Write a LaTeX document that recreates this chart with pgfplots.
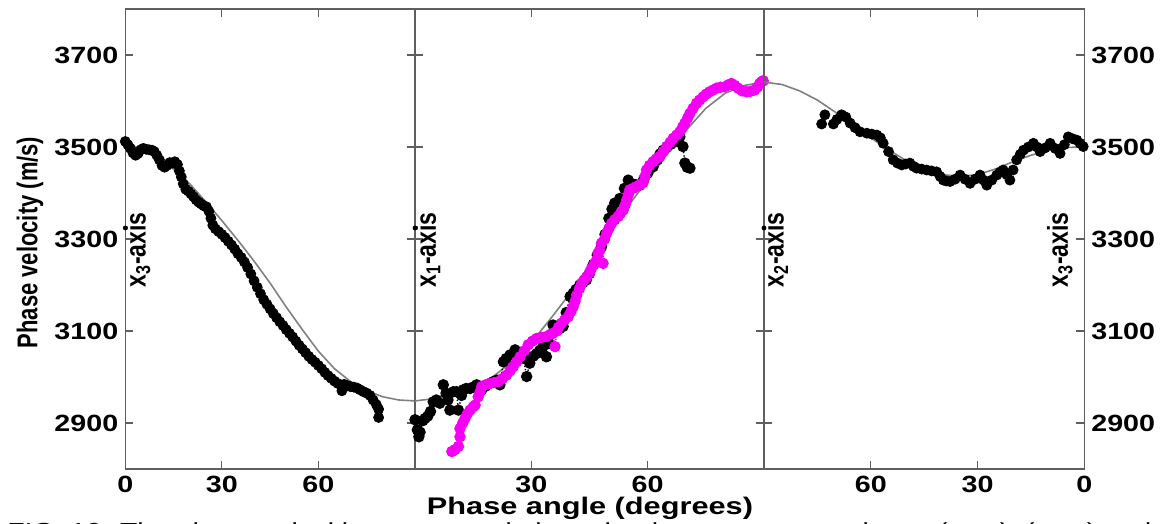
\documentclass[border=0pt]{standalone}
\usepackage{pgfplots}
\pgfplotsset{compat=1.18}
\usepackage{fontspec}
\usepackage{graphicx}
\setmainfont{Liberation Sans}
\newfontfamily\wide[FakeStretch=1.22]{Liberation Sans}
\newfontfamily\wider[FakeStretch=1.28]{Liberation Sans}
\newcommand\tickfont{\wide\bfseries\fontsize{11.75}{12}\selectfont}
\definecolor{mag}{RGB}{245,0,245}
\definecolor{theo}{RGB}{128,128,128}
\definecolor{frame}{RGB}{95,95,95}
\pgfplotsset{
  panel/.style={scale only axis, height=230pt, anchor=south west,
    xmin=0, xmax=90, ymin=2800, ymax=3800,
    ytick={2900,3100,3300,3500,3700},
    axis line style={frame, line width=0.6pt},
    every tick/.style={frame, line width=0.6pt},
    major tick length=4pt,
    tick label style={font=\tickfont},
    /pgf/number format/assume math mode=true,
    /pgf/number format/1000 sep={},
    clip mode=individual},
  theory/.style={theo, line width=0.8pt, no marks},
  blk/.style={black, densely dotted, line width=0.7pt, mark=*, mark size=2.5pt, mark options={solid, fill=black, draw=black}},
  blkm/.style={only marks, mark=*, mark size=2.5pt, mark options={solid, fill=black, draw=black}},
  pnk/.style={mag, densely dotted, line width=0.7pt, mark=*, mark size=2.5pt, mark options={solid, fill=mag, draw=mag}},
  dot/.style={only marks, mark=*, mark size=1pt, black},
}
\newcommand\axlab[1]{\scalebox{1}[1.25]{\bfseries\fontsize{11.5}{12}\selectfont #1}}
\begin{document}
\begin{tikzpicture}
\useasboundingbox (0,0) rectangle (581.5pt,262pt);
% ---------------- left panel (x1x3 -> x3) ----------------
\begin{axis}[panel, at={(62.65pt,27.5pt)}, width=144.85pt, xtick={0,30,60}]
\addplot[theory] coordinates {(0,3505)(5,3497)(10,3478)(15,3452)(20,3420)(25,3381)(30,3340)(35,3297)(40,3252)(45,3204)(50,3152)(55,3103)(60,3056)(65,3018)(70,2990)(75,2970)(80,2957)(85,2950)(90,2948)};
\addplot[blkm] coordinates {
(0,3512)(0.8,3505)(1.6,3497)(2.4,3487)(3.2,3482)(4.0,3486)(4.8,3494)(5.6,3497)(6.5,3495)(7.4,3494)(8.3,3493)(9.0,3490)(9.8,3482)(10.6,3472)(11.4,3460)(12.2,3456)(13.0,3460)(13.8,3466)(14.6,3465)(15.4,3468)(16.2,3462)(16.8,3448)(17.4,3435)(18.0,3420)(18.8,3408)(19.6,3404)(20.4,3398)(21.2,3392)(22.0,3385)(22.8,3380)(23.6,3376)(24.4,3372)(25.2,3370)(26.0,3360)(26.6,3345)(27.2,3330)(28.0,3322)(29.0,3316)(30.0,3310)(31.0,3303)(32.0,3295)(33.0,3287)(34.0,3278)(35.0,3268)(36.0,3260)(37.0,3250)(38.0,3238)(39.0,3224)(40.0,3209)(41.0,3195)(42.0,3181)(43.0,3168)(44.0,3158)(45.0,3148)(46.0,3138)(47.0,3129)(48.0,3120)(49.0,3112)(50.0,3103)(51.0,3095)(52.0,3087)(53.0,3078)(54.0,3069)(55.0,3061)(56.0,3053)(57.0,3045)(58.0,3038)(59.0,3032)(60.0,3025)(61.0,3018)(62.0,3010)(63.0,3003)(64.0,2997)(65.0,2991)(66.0,2986)(67.3,2970)(68.0,2984)(69.0,2981)(70.0,2979)(71.0,2978)(72.0,2976)(73.0,2972)(74.0,2968)(75.0,2965)(76.0,2960)(77.0,2950)(78.0,2940)(78.7,2930)(78.7,2912)};
\addplot[dot] coordinates {(0,3324)};
\node[rotate=90, anchor=base] at (axis cs:6.3,3276) {\axlab{x\textsubscript{3}-axis}};
\end{axis}
% ---------------- middle panel (x1 -> x2) ----------------
\begin{axis}[panel, at={(207.5pt,27.5pt)}, width=174.5pt, xtick={30,60}, yticklabels={}]
\addplot[theory] coordinates {(0,2948)(5,2953)(10,2963)(15,2978)(20,3000)(25,3033)(30,3075)(35,3127)(40,3182)(45,3243)(50,3308)(55,3372)(60,3428)(65,3484)(70,3537)(75,3584)(80,3617)(85,3634)(90,3641)};
\addplot[blk] coordinates {
(0,2907)(0.6,2885)(1.0,2870)(1.3,2880)(2.0,2905)(2.6,2910)(3.3,2915)(4.0,2925)(4.7,2946)(5.5,2950)(6.4,2943)(7.3,2983)(8.0,2965)(8.5,2950)(9.0,2928)(9.9,2968)(10.7,2968)(11.2,2928)(12.0,2960)(12.4,2972)(13.2,2975)(14.2,2975)(15.0,2978)(15.9,2983)(17.2,2972)(18.2,2980)(19.3,2986)(20.2,2990)(21.1,2993)(21.9,2983)(22.8,3033)(23.5,3040)(24.5,3048)(25.8,3059)(26.8,3050)(27.9,3041)(28.8,3001)(29.6,3030)(30.5,3045)(31.4,3051)(32.2,3058)(33.0,3066)(33.9,3044)(34.5,3073)(35.6,3113)(36.5,3110)(37.3,3105)(38.2,3110)(39.0,3140)(40.0,3175)(40.8,3182)(41.5,3190)(42.5,3200)(43.3,3205)(44.2,3211)(45.0,3225)(46.0,3245)(47.0,3265)(48.1,3283)(49.0,3310)(50.0,3345)(50.8,3365)(51.5,3378)(52.8,3388)(54.0,3410)(55.0,3428)(56.0,3420)(57.0,3418)(58.0,3417)(59.0,3430)(60.0,3443)(61.4,3457)(62.5,3472)(63.2,3485)(64.0,3493)(65.0,3500)(66.0,3506)(67.2,3512)(68.3,3522)(69.1,3501)(69.6,3465)(70.2,3456)(70.9,3454)};
\addplot[pnk] coordinates {
(9.5,2838)(10.3,2842)(11.2,2849)(11.6,2870)(11.6,2888)(12.3,2900)(12.9,2910)(13.5,2920)(14.2,2928)(15.0,2935)(15.5,2939)(16.3,2957)(16.8,2968)(17.2,2979)(18.2,2983)(19.3,2986)(20.4,2988)(21.5,2990)(22.6,2997)(23.6,3004)(24.5,3013)(25.3,3022)(26.2,3033)(27.1,3044)(28.2,3057)(29.2,3070)(30.3,3078)(31.4,3084)(32.6,3086)(33.9,3088)(35.0,3093)(35.5,3095)(36.1,3066)(36.6,3100)(37.0,3108)(37.8,3117)(38.6,3124)(39.5,3131)(40.2,3142)(40.8,3153)(41.3,3165)(41.7,3178)(42.4,3192)(43.0,3204)(43.6,3211)(44.3,3218)(45.0,3227)(45.5,3236)(46.2,3245)(46.8,3254)(47.2,3269)(47.6,3275)(48.1,3291)(48.5,3247)(48.9,3300)(49.4,3312)(50.0,3323)(50.7,3334)(51.5,3342)(52.4,3349)(53.0,3356)(53.7,3363)(54.2,3374)(54.6,3385)(55.0,3396)(55.4,3407)(56.2,3410)(57.1,3414)(58.0,3418)(58.8,3422)(59.3,3436)(59.7,3450)(60.5,3460)(61.4,3468)(62.2,3474)(63.1,3479)(64.0,3490)(64.9,3501)(65.8,3510)(66.6,3519)(67.5,3526)(68.3,3533)(69.0,3543)(69.6,3552)(70.3,3563)(70.9,3573)(71.7,3584)(72.6,3595)(73.4,3602)(74.3,3609)(75.1,3615)(76.0,3620)(76.9,3624)(77.8,3628)(78.8,3630)(79.9,3631)(80.8,3635)(81.6,3638)(82.4,3634)(83.3,3628)(84.4,3622)(85.5,3620)(86.5,3621)(87.6,3624)(88.3,3630)(88.9,3638)(89.4,3642)(89.8,3644)};
\addplot[dot] coordinates {(0,3324)};
\node[rotate=90, anchor=base] at (axis cs:5.4,3276) {\axlab{x\textsubscript{1}-axis}};
\end{axis}
% ---------------- right panel (x2 -> x3) ----------------
\begin{axis}[panel, at={(382pt,27.5pt)}, width=160.15pt, x dir=reverse, xtick={0,30,60}, yticklabel pos=right]
\addplot[theory] coordinates {(90,3641)(85,3636)(80,3622)(75,3602)(70,3576)(65,3548)(60,3520)(55,3494)(50,3470)(45,3452)(40,3440)(35,3436)(30,3440)(25,3452)(20,3468)(15,3482)(10,3493)(5,3499)(0,3500)};
\addplot[blkm] coordinates {
(73.8,3550)(72.9,3570)(70.5,3550)(69.5,3560)(68.2,3570)(67.0,3565)(65.8,3552)(64.4,3542)(63.0,3533)(61.1,3530)(59.7,3528)(58.3,3526)(57.3,3520)(56.5,3508)(55.0,3490)(53.7,3472)(52.5,3465)(51.3,3461)(50.2,3463)(49.0,3465)(48.0,3458)(47.1,3454)(45.7,3452)(44.3,3450)(42.9,3448)(41.5,3446)(40.5,3436)(39.6,3428)(38.7,3426)(37.7,3425)(36.3,3430)(34.9,3439)(33.5,3430)(32.1,3421)(30.7,3430)(29.3,3439)(28.3,3428)(27.4,3417)(26.0,3428)(24.6,3439)(23.7,3445)(22.8,3450)(21.8,3440)(20.9,3428)(20.0,3450)(19.0,3472)(18.0,3484)(17.1,3493)(15.7,3500)(14.3,3508)(13.3,3500)(12.4,3490)(11.0,3498)(9.6,3508)(8.2,3497)(6.8,3486)(5.6,3505)(4.5,3522)(3.3,3518)(2.1,3515)(1.2,3508)(0.3,3501)};
\addplot[dot] coordinates {(90,3324)};
\node[rotate=90, anchor=base] at (axis cs:84.5,3276) {\axlab{x\textsubscript{2}-axis}};
\node[rotate=90, anchor=base] at (axis cs:4.6,3276) {\axlab{x\textsubscript{3}-axis}};
\end{axis}
% ---------------- labels ----------------
\node[rotate=90, anchor=center] at (15pt,140.75pt) {\scalebox{1}[1.3]{\bfseries\fontsize{11}{12}\selectfont Phase velocity (m/s)}};
\node[anchor=base, inner sep=0pt] at (295pt,4.5pt) {\wider\bfseries\fontsize{12}{13}\selectfont Phase angle (degrees)};
\node[anchor=base west, inner sep=0pt] at (3.5pt,-8pt) {\wide\fontsize{11.6}{13}\selectfont FIG. 10. The phase velocities measured along the three symmetry planes (x\textsubscript{1}x\textsubscript{3}), (x\textsubscript{1}x\textsubscript{2}) and};
\end{tikzpicture}
\end{document}
